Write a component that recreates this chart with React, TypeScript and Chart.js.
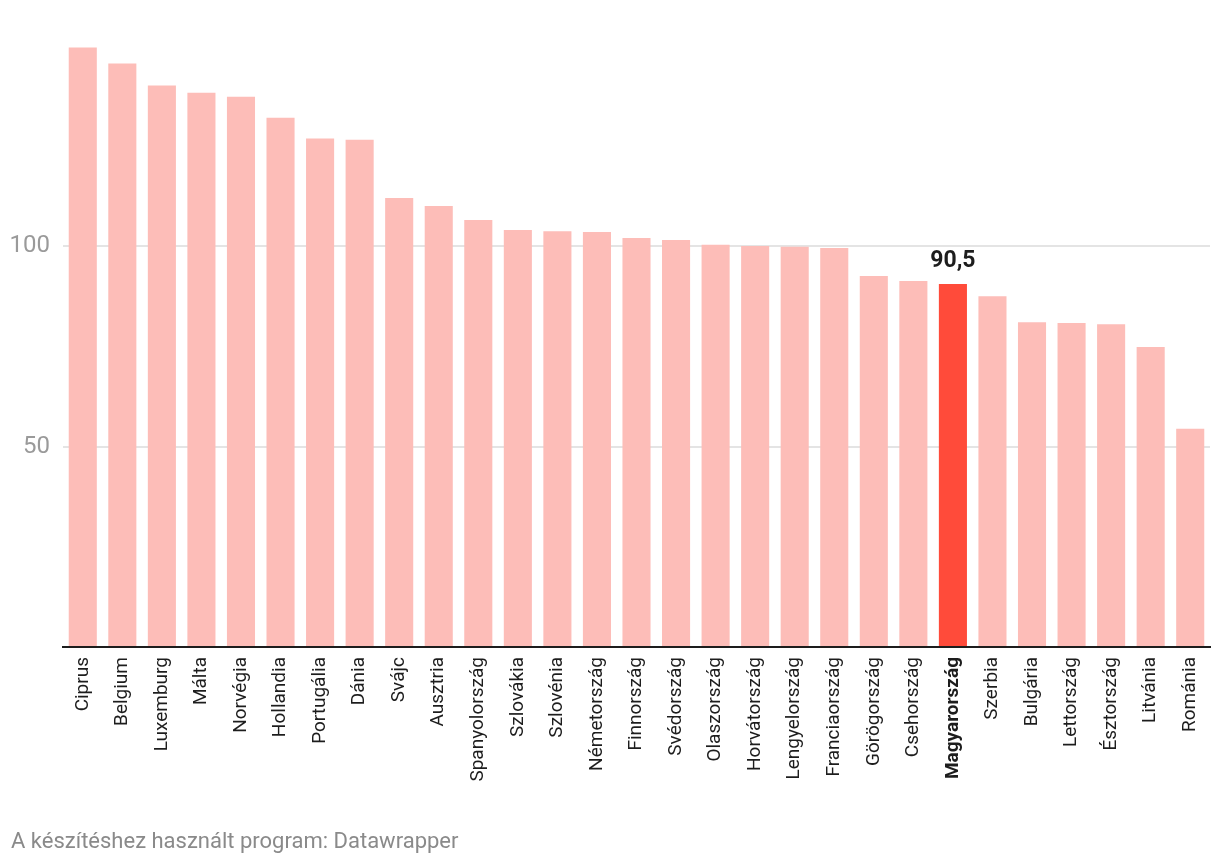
import React, { useEffect, useRef } from "react";
import { Chart, registerables } from "chart.js";

Chart.register(...registerables);

const categories: string[] = [
  "Ciprus", "Belgium", "Luxemburg", "Málta", "Norvégia", "Hollandia", "Portugália", "Dánia",
  "Svájc", "Ausztria", "Spanyolország", "Szlovákia", "Szlovénia", "Németország", "Finnország",
  "Svédország", "Olaszország", "Horvátország", "Lengyelország", "Franciaország", "Görögország",
  "Csehország", "Magyarország", "Szerbia", "Bulgária", "Lettország", "Észtország", "Litvánia", "Románia",
];

const values: number[] = [
  149.5, 145.5, 140, 138.2, 137.2, 132, 126.8, 126.5,
  112, 110, 106.5, 104, 103.7, 103.5, 102,
  101.5, 100.3, 100, 99.8, 99.5, 92.5,
  91.3, 90.5, 87.5, 81, 80.8, 80.5, 74.8, 54.4,
];

const yTicks: number[] = [0, 50, 100];
const highlight = "Magyarország";
const highlightLabel = "90,5";
const footer = "A készítéshez használt program: Datawrapper";

const LIGHT = "#fdbdb8";
const STRONG = "#ff4b3a";

const valueLabelPlugin = {
  id: "valueLabel",
  afterDatasetsDraw(chart: any) {
    const idx = categories.indexOf(highlight);
    const meta = chart.getDatasetMeta(0);
    const bar = meta.data[idx];
    if (!bar) return;
    const ctx = chart.ctx;
    ctx.save();
    ctx.font = "bold 23px Roboto";
    ctx.fillStyle = "#1d1d1d";
    ctx.textAlign = "center";
    ctx.textBaseline = "alphabetic";
    ctx.fillText(highlightLabel, bar.x, bar.y - 17);
    ctx.restore();
  },
};

export default function App() {
  const canvasRef = useRef<HTMLCanvasElement | null>(null);

  useEffect(() => {
    if (!canvasRef.current) return;
    const hIdx = categories.indexOf(highlight);
    const chart = new Chart(canvasRef.current, {
      type: "bar",
      data: {
        labels: categories,
        datasets: [
          {
            data: values,
            backgroundColor: categories.map((c) => (c === highlight ? STRONG : LIGHT)),
            borderWidth: 0,
            barPercentage: 0.71,
            categoryPercentage: 1,
          },
        ],
      },
      options: {
        animation: false,
        responsive: true,
        maintainAspectRatio: false,
        layout: { padding: { top: 45.5, right: 10, bottom: 0, left: 0 } },
        plugins: {
          legend: { display: false },
          tooltip: { enabled: false },
        },
        scales: {
          x: {
            grid: { display: false, drawTicks: false },
            border: { display: true, color: "#1d1d1d", width: 2 },
            ticks: {
              autoSkip: false,
              maxRotation: 90,
              minRotation: 90,
              padding: 10,
              color: "#1d1d1d",
              font: (ctx: any) =>
                ctx.index === hIdx
                  ? { family: "Roboto", size: 19, weight: "bold" }
                  : { family: "Roboto", size: 19 },
            },
            afterFit: (scale: any) => {
              scale.height = 866 - 647;
              scale.paddingLeft = 0;
              scale.paddingRight = 0;
            },
          },
          y: {
            min: 0,
            max: 150,
            border: { display: false },
            grid: {
              drawTicks: false,
              color: (ctx: any) => (ctx.tick && ctx.tick.value === 0 ? "rgba(0,0,0,0)" : "#e4e4e4"),
              lineWidth: 2,
            },
            ticks: {
              padding: 13,
              color: "#9a9a9a",
              font: { family: "Roboto", size: 24 },
              callback: (v: any) => (v === 0 ? "" : String(v)),
            },
            afterBuildTicks: (scale: any) => {
              scale.ticks = yTicks.map((v) => ({ value: v }));
            },
            afterFit: (scale: any) => {
              scale.width = 63;
              scale.paddingTop = 0;
              scale.paddingBottom = 0;
            },
          },
        },
      },
      plugins: [valueLabelPlugin],
    });
    return () => chart.destroy();
  }, []);

  return (
    <div style={{ position: "absolute", left: 0, top: 0, width: 1220, height: 866, background: "#fff" }}>
      <canvas ref={canvasRef} />
      <div
        style={{
          position: "absolute",
          left: 11,
          top: 828,
          fontFamily: "Roboto",
          fontSize: 22,
          lineHeight: "26px",
          color: "#8a8a8a",
          whiteSpace: "nowrap",
        }}
      >
        {footer}
      </div>
    </div>
  );
}
